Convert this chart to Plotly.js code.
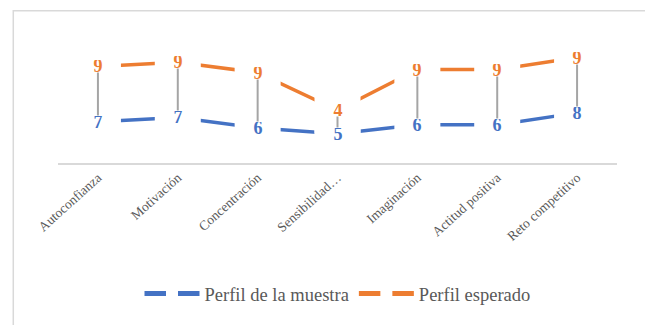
<!DOCTYPE html>
<html>
<head>
<meta charset="utf-8">
<script src="https://cdn.plot.ly/plotly-3.0.1.min.js"></script>
<style>
  html, body { margin: 0; padding: 0; background: #ffffff; }
  #chart { width: 645px; height: 325px; }
</style>
</head>
<body>
<div id="chart"></div>
<script>
// Categories (tick labels)
const categories = ["Autoconfianza", "Motivación", "Concentración", "Sensibilidad…", "Imaginación", "Actitud positiva", "Reto competitivo"];
// Series values (stacked line chart in the original)
const muestra  = [6.7, 7.4, 5.7, 4.75, 6.2, 6.2, 8.15];
const esperado = [9, 9, 9, 3.8, 9, 9, 9];
const seriesNames = ["Perfil de la muestra", "Perfil esperado"];

const BLUE = "#4472C4", ORANGE = "#ED7D31", GREY = "#A5A5A5", TXT = "#595959";
const FONT = "Liberation Serif";

const gapMarker = { symbol: "square", size: 46, color: "#ffffff", line: { width: 0 } };

const traces = [
  {
    type: "scatter", x: categories, y: muestra, name: seriesNames[0],
    stackgroup: "one", fill: "none", mode: "lines+markers",
    line: { color: BLUE, width: 3.5 }, marker: gapMarker, cliponaxis: false,
    hoverinfo: "skip"
  },
  {
    type: "scatter", x: categories, y: esperado, name: seriesNames[1],
    stackgroup: "one", fill: "none", mode: "lines+markers",
    line: { color: ORANGE, width: 3.5 }, marker: gapMarker, cliponaxis: false,
    hoverinfo: "skip"
  },
  {
    // high-low lines: from the bottom series to the stacked top series
    type: "scatter", x: categories, y: muestra, mode: "markers",
    marker: { size: 1, opacity: 0 }, showlegend: false, hoverinfo: "skip",
    error_y: { type: "data", symmetric: false, array: esperado,
               arrayminus: esperado.map(() => 0), width: 0, color: GREY, thickness: 2 }
  }
];

const stackedTop = muestra.map((v, i) => v + esperado[i]);
const annotations = [];
categories.forEach((c, i) => {
  annotations.push({ x: c, y: muestra[i], text: muestra[i].toFixed(0), showarrow: false,
    font: { family: FONT, size: 18, color: BLUE, weight: "bold" }, bgcolor: "#ffffff",
    borderpad: 0, height: 12, width: 12, xanchor: "center", yanchor: "middle" });
  annotations.push({ x: c, y: stackedTop[i], text: esperado[i].toFixed(0), showarrow: false,
    font: { family: FONT, size: 18, color: ORANGE, weight: "bold" }, bgcolor: "#ffffff",
    borderpad: 0, height: 12, width: 12, xanchor: "center", yanchor: "middle" });
});

const layout = {
  width: 645, height: 325,
  margin: { l: 58, r: 28, t: 40, b: 161.5, pad: 0 },
  paper_bgcolor: "#ffffff", plot_bgcolor: "#ffffff",
  font: { family: FONT, color: TXT },
  showlegend: true,
  legend: {
    orientation: "h", x: 0.5, xanchor: "center", y: -1.065, yanchor: "middle",
    font: { family: FONT, size: 18.5, color: TXT }, itemsizing: "constant",
    traceorder: "normal", bgcolor: "rgba(0,0,0,0)", itemwidth: 55
  },
  xaxis: {
    type: "category", range: [-0.5, 6.5], autorange: false,
    showline: true, linecolor: "#D9D9D9", linewidth: 1.5,
    showgrid: false, zeroline: false, ticks: "", tickangle: -42, automargin: false,
    tickfont: { family: FONT, size: 13.5, color: TXT }, fixedrange: true
  },
  yaxis: {
    range: [0, 20], autorange: false, showgrid: false, zeroline: false, showline: false,
    showticklabels: false, ticks: "", automargin: false, fixedrange: true
  },
  shapes: [
    { type: "rect", xref: "paper", yref: "paper", x0: -0.080, x1: 1.2, y0: -1.6, y1: 1.237,
      line: { color: "#D9D9D9", width: 1.5 }, fillcolor: "rgba(0,0,0,0)", layer: "below" }
  ],
  annotations: annotations
};

Plotly.newPlot("chart", traces, layout, { displayModeBar: false, staticPlot: true });
</script>
</body>
</html>
